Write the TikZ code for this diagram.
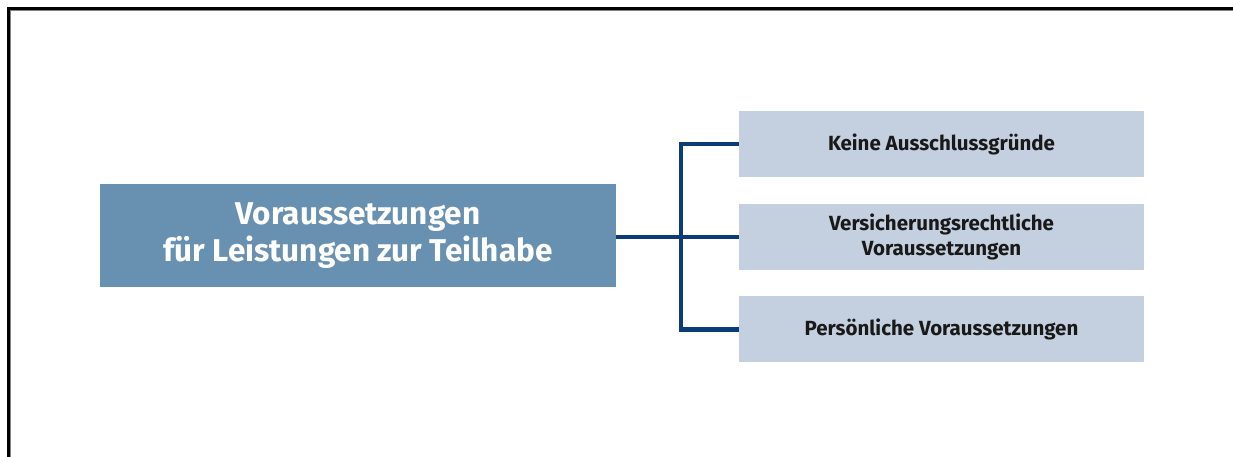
\documentclass[tikz,border=0pt]{standalone}
\usepackage{fontspec}
\setmainfont{Fira Sans}
\definecolor{mainblue}{RGB}{104,144,176}
\definecolor{lightblue}{RGB}{196,208,224}
\definecolor{navy}{RGB}{10,60,122}
\definecolor{framegrey}{RGB}{130,130,130}
\begin{document}
\begin{tikzpicture}[x=1bp,y=-1bp,
  mainbox/.style={fill=mainblue, text=white, font=\fontsize{31.5bp}{37bp}\selectfont\bfseries, align=center, inner sep=0pt, minimum width=516bp, minimum height=103bp},
  subbox/.style={fill=lightblue, text=black!90, font=\fontsize{20.5bp}{25bp}\selectfont\bfseries, align=center, inner sep=0pt, minimum width=405bp, minimum height=66bp},
  conn/.style={draw=navy, line width=4.5bp}]
\useasboundingbox (0,0) rectangle (1233,457);
\fill[white] (-10,-10) rectangle (1245,470);
% frame
\draw[black, line width=3bp] (8.5,470) -- (8.5,8.5) -- (1245,8.5);
\draw[framegrey, line width=1bp] (10.5,470) -- (10.5,10.5) -- (1245,10.5);
% nodes
\node[mainbox] (main) at (358,235.5) {Voraussetzungen\\für Leistungen zur Teilhabe};
\node[subbox] (s1) at (941.5,144) {Keine Ausschlussgründe};
\node[subbox] (s2) at (941.5,237) {Versicherungsrechtliche\\Voraussetzungen};
\node[subbox] (s3) at (941.5,329.5) {Persönliche Voraussetzungen};
\coordinate (j) at (681,237);
% connectors
\draw[conn] (main.east |- j) -- (s2.west);
\draw[conn] (s1.west) -| (j) |- (s3.west);
\end{tikzpicture}
\end{document}
